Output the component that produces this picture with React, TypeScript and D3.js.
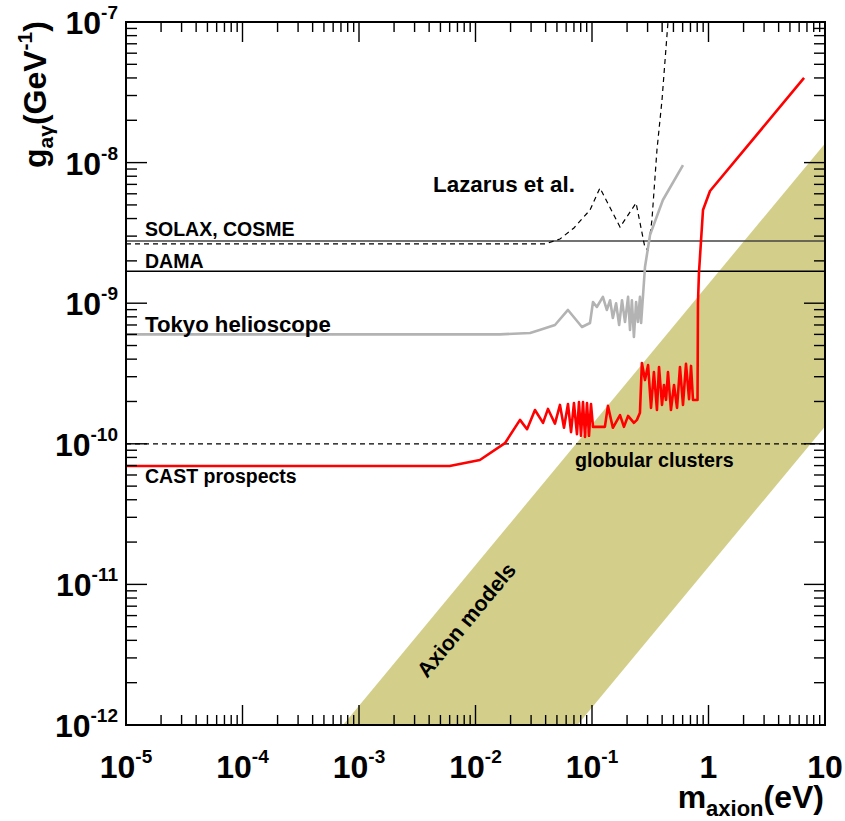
import React from 'react';
import * as d3 from 'd3';

const WIDTH = 845;
const HEIGHT = 821;
const PLOT = { left: 126, right: 825, top: 22, bottom: 725 };
const FONT = '"Liberation Sans", Arial, Helvetica, sans-serif';

// axis decades (exponents)
const massDecades = [-5, -4, -3, -2, -1, 0, 1];
const couplingDecades = [-12, -11, -10, -9, -8, -7];

// CAST prospects (red)
const castMass = [
  1e-5, 6.0e-3, 0.0109, 0.0179, 0.0241, 0.0277, 0.0324, 0.038, 0.0419, 0.0481,
  0.0531, 0.0575, 0.0622, 0.0661, 0.07, 0.0743, 0.0773, 0.0805, 0.0837, 0.0871,
  0.0906, 0.0942, 0.098, 0.102, 0.129, 0.137, 0.151, 0.174, 0.188, 0.204,
  0.229, 0.243, 0.258, 0.268, 0.285, 0.303, 0.321, 0.34, 0.361, 0.376,
  0.399, 0.415, 0.432, 0.449, 0.476, 0.506, 0.537, 0.569, 0.604, 0.641,
  0.681, 0.708, 0.736, 0.805, 0.812, 0.828, 0.897, 1.03, 6.61,
];
const castG = [
  6.95e-11, 6.95e-11, 7.67e-11, 1.01e-10, 1.48e-10, 1.27e-10, 1.74e-10, 1.41e-10, 1.77e-10, 1.39e-10,
  1.89e-10, 1.3e-10, 1.92e-10, 1.21e-10, 1.95e-10, 1.17e-10, 1.98e-10, 1.14e-10, 1.98e-10, 1.12e-10,
  1.95e-10, 1.14e-10, 1.92e-10, 1.32e-10, 1.32e-10, 1.86e-10, 1.3e-10, 1.6e-10, 1.32e-10, 1.58e-10,
  1.41e-10, 1.48e-10, 1.66e-10, 3.76e-10, 2.84e-10, 3.63e-10, 1.8e-10, 3.24e-10, 1.74e-10, 3.52e-10,
  1.89e-10, 2.62e-10, 2.05e-10, 3.24e-10, 1.74e-10, 2.62e-10, 1.8e-10, 3.52e-10, 1.89e-10, 3.7e-10,
  2.08e-10, 3.58e-10, 2.05e-10, 2.05e-10, 1.0e-9, 1.64e-9, 4.6e-9, 6.28e-9, 4.0e-8,
];

// Tokyo helioscope (grey)
const tokyoMass = [
  1e-5, 0.0162, 0.0294, 0.0355, 0.0481, 0.0622, 0.082, 0.0961, 0.102, 0.11,
  0.124, 0.134, 0.143, 0.151, 0.161, 0.171, 0.181, 0.192, 0.204, 0.212,
  0.22, 0.229, 0.239, 0.248, 0.258, 0.264, 0.285, 0.315, 0.406, 0.604,
];
const tokyoG = [
  6.0e-10, 6.0e-10, 6.14e-10, 6.45e-10, 7.0e-10, 8.95e-10, 6.77e-10, 7.23e-10, 1.02e-9, 9.4e-10,
  1.11e-9, 8.95e-10, 1.05e-9, 7.85e-10, 1.0e-9, 7.0e-10, 1.05e-9, 7.35e-10, 1.11e-9, 6.45e-10,
  1.05e-9, 5.75e-10, 1.02e-9, 7.35e-10, 1.11e-9, 7.23e-10, 1.81e-9, 3.06e-9, 5.42e-9, 9.61e-9,
];

// Lazarus et al. (dashed)
const lazarusMass = [1e-5, 0.0396, 0.0531, 0.07, 0.0961, 0.117, 0.174, 0.239, 0.285, 0.303, 0.327, 0.361, 0.399, 0.449];
const lazarusG = [2.64e-9, 2.64e-9, 2.86e-9, 3.43e-9, 4.6e-9, 6.6e-9, 3.48e-9, 5.16e-9, 2.47e-9, 2.39e-9, 3.91e-9, 1.23e-8, 2.79e-8, 1e-7];

// Axion models band
const bandMass = [7.3e-4, 10, 10, 0.075];
const bandG = [1e-12, 1.37e-8, 1.33e-10, 1e-12];

// horizontal limits
const solaxG = 2.77e-9;
const damaG = 1.69e-9;
const globularG = 1e-10;

const zip = (ms: number[], gs: number[]): [number, number][] => ms.map((m, i) => [m, gs[i]]);

export default function App() {
  const x = d3.scaleLog().domain([1e-5, 10]).range([PLOT.left, PLOT.right]);
  const y = d3.scaleLog().domain([1e-12, 1e-7]).range([PLOT.bottom, PLOT.top]);
  const line = d3.line<[number, number]>().x(d => x(d[0])).y(d => y(d[1]));

  const xMajor = massDecades.map(e => Math.pow(10, e));
  const yMajor = couplingDecades.map(e => Math.pow(10, e));
  const xMinor: number[] = [];
  massDecades.slice(0, -1).forEach(e => { for (let k = 2; k <= 9; k++) xMinor.push(k * Math.pow(10, e)); });
  const yMinor: number[] = [];
  couplingDecades.slice(0, -1).forEach(e => { for (let k = 2; k <= 9; k++) yMinor.push(k * Math.pow(10, e)); });

  const bandAngle = (Math.atan2(y(1e-11) - y(1e-12), x(1e-2) - x(1e-3)) * 180) / Math.PI;
  const labelX = PLOT.left + 19;

  return (
    <div style={{ position: 'absolute', left: 0, top: 0 }}>
      <svg width={WIDTH} height={HEIGHT} style={{ display: 'block', background: '#fff' }} fontFamily={FONT} fontWeight="bold">
        <defs>
          <clipPath id="plot">
            <rect x={PLOT.left} y={PLOT.top} width={PLOT.right - PLOT.left} height={PLOT.bottom - PLOT.top} />
          </clipPath>
        </defs>

        <g clipPath="url(#plot)">
          <path d={line(zip(bandMass, bandG)) + 'Z'} fill="#d3cf8a" />
          <line x1={PLOT.left} x2={PLOT.right} y1={y(globularG)} y2={y(globularG)} stroke="#000" strokeWidth={1.2} strokeDasharray="5,4" />
          <line x1={PLOT.left} x2={PLOT.right} y1={y(solaxG)} y2={y(solaxG)} stroke="#444" strokeWidth={1.5} />
          <line x1={PLOT.left} x2={PLOT.right} y1={y(damaG)} y2={y(damaG)} stroke="#000" strokeWidth={1.5} />
          <path d={line(zip(lazarusMass, lazarusG)) || ''} fill="none" stroke="#000" strokeWidth={1.2} strokeDasharray="5,4" />
          <path d={line(zip(tokyoMass, tokyoG)) || ''} fill="none" stroke="#b3b3b3" strokeWidth={2.6} strokeLinejoin="round" />
          <path d={line(zip(castMass, castG)) || ''} fill="none" stroke="#ff0000" strokeWidth={2.6} strokeLinejoin="round" />
        </g>

        {/* labels inside the plot */}
        <g fill="#000">
          <text x={labelX} y={236} fontSize={19.5}>SOLAX, COSME</text>
          <text x={labelX} y={268} fontSize={19.5}>DAMA</text>
          <text x={labelX} y={332} fontSize={22.2}>Tokyo helioscope</text>
          <text x={labelX} y={483} fontSize={19.5}>CAST prospects</text>
          <text x={433} y={192} fontSize={22.4}>Lazarus et al.</text>
          <text x={575} y={467} fontSize={19.7}>globular clusters</text>
          <text
            transform={`translate(${x(8.3e-3)},${y(5.6e-12)}) rotate(${bandAngle})`}
            textAnchor="middle"
            dy="0.36em"
            fontSize={21.5}
          >
            Axion models
          </text>
        </g>

        {/* ticks */}
        <g stroke="#000" strokeWidth={1.4}>
          {xMajor.map(v => (
            <g key={'xM' + v}>
              <line x1={x(v)} x2={x(v)} y1={PLOT.bottom} y2={PLOT.bottom - 20} />
              <line x1={x(v)} x2={x(v)} y1={PLOT.top} y2={PLOT.top + 20} />
            </g>
          ))}
          {xMinor.map(v => (
            <g key={'xm' + v}>
              <line x1={x(v)} x2={x(v)} y1={PLOT.bottom} y2={PLOT.bottom - 10} />
              <line x1={x(v)} x2={x(v)} y1={PLOT.top} y2={PLOT.top + 10} />
            </g>
          ))}
          {yMajor.map(v => (
            <g key={'yM' + v}>
              <line x1={PLOT.left} x2={PLOT.left + 21} y1={y(v)} y2={y(v)} />
              <line x1={PLOT.right} x2={PLOT.right - 21} y1={y(v)} y2={y(v)} />
            </g>
          ))}
          {yMinor.map(v => (
            <g key={'ym' + v}>
              <line x1={PLOT.left} x2={PLOT.left + 11} y1={y(v)} y2={y(v)} />
              <line x1={PLOT.right} x2={PLOT.right - 11} y1={y(v)} y2={y(v)} />
            </g>
          ))}
        </g>

        <rect x={PLOT.left} y={PLOT.top} width={PLOT.right - PLOT.left} height={PLOT.bottom - PLOT.top} fill="none" stroke="#000" strokeWidth={2} />

        {/* tick labels */}
        <g fill="#000">
          {massDecades.map(e => (
            <text key={'xl' + e} x={x(Math.pow(10, e))} y={778} textAnchor="middle" fontSize={32}>
              {e === 0 ? '1' : '10'}
              {e < 0 && <tspan dy={-15} fontSize={19}>{String(e)}</tspan>}
            </text>
          ))}
          {couplingDecades.map(e => (
            <text key={'yl' + e} x={118} y={y(Math.pow(10, e)) + 12} textAnchor="end" fontSize={32}>
              10<tspan dy={-15} fontSize={19}>{String(e)}</tspan>
            </text>
          ))}
        </g>

        {/* axis titles */}
        <text x={824} y={808} textAnchor="end" fontSize={32}>
          m<tspan dy={8} fontSize={22}>axion</tspan><tspan dy={-8}>(eV)</tspan>
        </text>
        <text transform="translate(46,168) rotate(-90)" fontSize={32}>
          g<tspan dy={7} fontSize={21}>aγ</tspan><tspan dy={-7}>(GeV</tspan><tspan dy={-14} fontSize={21}>-1</tspan><tspan dy={14}>)</tspan>
        </text>
      </svg>
    </div>
  );
}
